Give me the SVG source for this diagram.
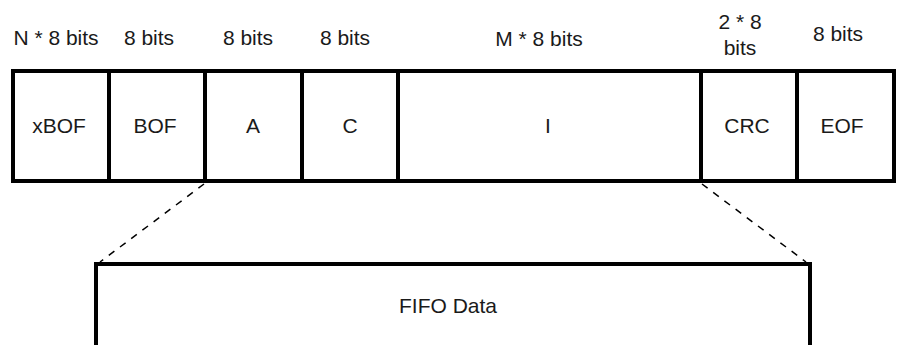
<svg xmlns="http://www.w3.org/2000/svg" width="897" height="345" viewBox="0 0 897 345">
<style>
.box{fill:#fff;stroke:#000;stroke-width:4}
.t{font-family:"Liberation Sans",Arial,sans-serif;font-size:21px;fill:#1a1a1a;text-anchor:middle}
.d{stroke:#000;stroke-width:1.5;stroke-dasharray:7,7;fill:none}
</style>
<g id="connectors">
<line class="d" x1="204" y1="184" x2="100" y2="262"/>
<line class="d" x1="702" y1="184" x2="806" y2="262"/>
</g>
<g id="labels">
<text class="t" x="56" y="45">N * 8 bits</text>
<text class="t" x="149" y="45">8 bits</text>
<text class="t" x="248" y="45">8 bits</text>
<text class="t" x="345" y="45">8 bits</text>
<text class="t" x="539" y="46">M * 8 bits</text>
<text class="t" x="740" y="29">2 * 8</text>
<text class="t" x="740" y="55">bits</text>
<text class="t" x="838" y="41">8 bits</text>
</g>
<g id="xBOF"><rect class="box" x="13" y="71" width="96" height="110"/><text class="t" x="59" y="133">xBOF</text></g>
<g id="BOF"><rect class="box" x="109" y="71" width="96" height="110"/><text class="t" x="155" y="133">BOF</text></g>
<g id="A"><rect class="box" x="205" y="71" width="97" height="110"/><text class="t" x="253" y="133">A</text></g>
<g id="C"><rect class="box" x="302" y="71" width="96" height="110"/><text class="t" x="350" y="133">C</text></g>
<g id="I"><rect class="box" x="398" y="71" width="303" height="110"/><text class="t" x="548" y="133">I</text></g>
<g id="CRC"><rect class="box" x="701" y="71" width="96" height="110"/><text class="t" x="747" y="133">CRC</text></g>
<g id="EOF"><rect class="box" x="797" y="71" width="97" height="110"/><text class="t" x="842" y="133">EOF</text></g>
<g id="FIFO"><rect class="box" x="96" y="264" width="714" height="100"/><text class="t" x="448" y="313">FIFO Data</text></g>
</svg>
